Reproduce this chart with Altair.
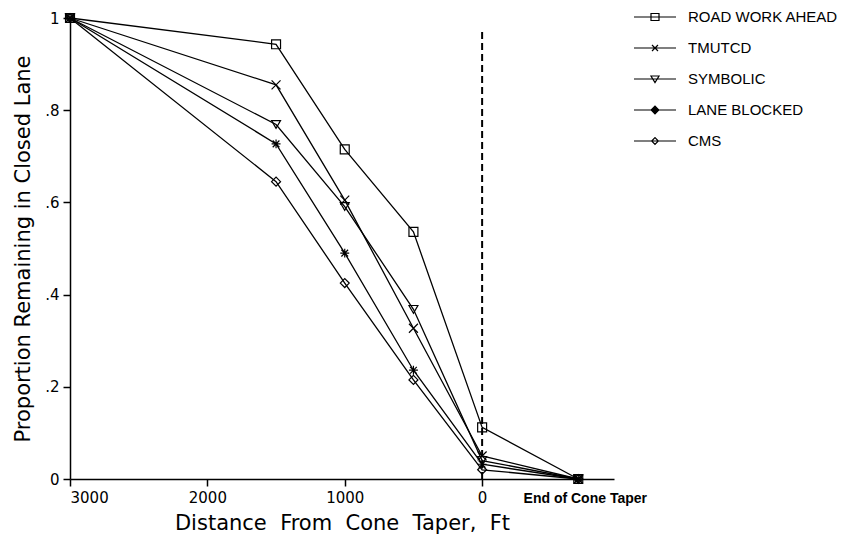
import altair as alt
import pandas as pd

distance = [3000, 1500, 1000, 500, 0, -700]
series_names = ["ROAD WORK AHEAD", "TMUTCD", "SYMBOLIC", "LANE BLOCKED", "CMS"]
road_work = [1.0, 0.943, 0.715, 0.536, 0.112, 0.0]
tmutcd = [1.0, 0.855, 0.605, 0.327, 0.050, 0.0]
symbolic = [1.0, 0.769, 0.591, 0.368, 0.040, 0.0]
lane_blocked = [1.0, 0.727, 0.490, 0.236, 0.032, 0.0]
cms = [1.0, 0.645, 0.425, 0.215, 0.020, 0.0]
x_ticks = [3000, 2000, 1000, 0]
y_ticks = [0, 0.2, 0.4, 0.6, 0.8, 1.0]
end_label = "End of Cone Taper"
end_x = -700
ref_x = 0
x_title = "Distance\u00a0 From\u00a0 Cone\u00a0 Taper,\u00a0 Ft"
y_title = "Proportion Remaining in Closed Lane"

values = [road_work, tmutcd, symbolic, lane_blocked, cms]
rows = []
for name, vals in zip(series_names, values):
    for d, v in zip(distance, vals):
        rows.append({"distance": d, "prop": v, "series": name})
df = pd.DataFrame(rows)

xscale = alt.Scale(domain=[3000, -960], nice=False, zero=False)
yscale = alt.Scale(domain=[0, 1], nice=False)

plot_shapes = [
    "square",
    "M-1,-1L1,1M-1,1L1,-1",
    "triangle-down",
    "M-1,0H1M0,-1V1M-0.75,-0.75L0.75,0.75M-0.75,0.75L0.75,-0.75",
    "diamond",
]
legend_shapes = [
    "M-2.1,0H2.1M-0.4,-0.35H0.4V0.35H-0.4Z",
    "M-2.1,0H2.1M-0.3,-0.3L0.3,0.3M-0.3,0.3L0.3,-0.3",
    "M-2.1,0H2.1M-0.4,-0.3H0.4L0,0.35Z",
    "M-2.1,0H2.1M-0.38,0L0,-0.38L0.38,0L0,0.38Z",
    "M-2.1,0H2.1M-0.33,0L0,-0.33L0.33,0L0,0.33Z",
]
legend_fill = ["white", "white", "white", "black", "white"]
legend_stroke = ["black"] * 5

x_enc = alt.X(
    "distance:Q",
    scale=xscale,
    axis=alt.Axis(
        values=x_ticks,
        title=x_title,
        format="d",
        grid=False,
        tickSize=7,
        labelPadding=4,
        titlePadding=7,
    ),
)
y_enc = alt.Y(
    "prop:Q",
    scale=yscale,
    axis=alt.Axis(
        values=y_ticks,
        title=y_title,
        grid=False,
        tickSize=7,
        labelPadding=4,
        titlePadding=11,
        labelExpr="datum.value == 0 ? '0' : datum.value == 1 ? '1' : replace(format(datum.value, '.1f'), '0.', '.')",
    ),
)

lines = alt.Chart(df).mark_line(color="black", strokeWidth=1.3).encode(
    x=x_enc, y=y_enc, detail="series:N"
)

points = alt.Chart(df).mark_point(
    filled=False, color="black", strokeWidth=1.2, size=80, opacity=1
).encode(
    x="distance:Q",
    y="prop:Q",
    shape=alt.Shape(
        "series:N",
        scale=alt.Scale(domain=series_names, range=plot_shapes),
        legend=None,
    ),
)

leg = dict(title=None, orient="none", legendX=563, legendY=-12)

legend_layer = alt.Chart(df).transform_filter("false").mark_point(
    strokeWidth=1.2, size=400, opacity=1
).encode(
    x="distance:Q",
    y="prop:Q",
    shape=alt.Shape(
        "series:N",
        scale=alt.Scale(domain=series_names, range=legend_shapes),
        legend=alt.Legend(
            symbolSize=400,
            symbolStrokeColor="black",
            symbolStrokeWidth=1.2,
            labelFont="Liberation Sans",
            labelFontSize=15,
            labelColor="black",
            labelOffset=22,
            labelLimit=0,
            rowPadding=12,
            symbolOffset=11,
            **leg,
        ),
    ),
    fill=alt.Fill(
        "series:N",
        scale=alt.Scale(domain=series_names, range=legend_fill),
        legend=alt.Legend(**leg),
    ),
    stroke=alt.Stroke(
        "series:N",
        scale=alt.Scale(domain=series_names, range=legend_stroke),
        legend=alt.Legend(**leg),
    ),
)

ref_df = pd.DataFrame({"x": [ref_x], "y": [0.0], "y2": [0.978]})
ref_rule = alt.Chart(ref_df).mark_rule(
    color="black", strokeWidth=2, strokeDash=[7, 4]
).encode(x="x:Q", y="y:Q", y2="y2:Q")

end_df = pd.DataFrame({"x": [end_x], "y": [0.0], "label": [end_label]})
end_text = alt.Chart(end_df).mark_text(
    font="Liberation Sans",
    fontWeight="bold",
    fontSize=14,
    dy=20,
    dx=7,
    color="black",
    baseline="middle",
).encode(x="x:Q", y="y:Q", text="label:N")

chart = (
    alt.layer(ref_rule, lines, points, legend_layer, end_text)
    .resolve_scale(shape="independent", fill="independent", stroke="independent")
    .properties(
        width=544,
        height=461,
        autosize=alt.AutoSizeParams(type="none"),
        padding={"left": 62, "top": 10, "right": 226, "bottom": 55},
    )
    .configure_view(stroke=None)
    .configure_axis(
        labelFont="DejaVu Sans",
        labelFontSize=15,
        labelColor="black",
        titleFont="DejaVu Sans",
        titleFontSize=21,
        titleFontWeight="normal",
        titleColor="black",
        domainColor="black",
        domainWidth=1.5,
        tickColor="black",
        tickWidth=1.5,
    )
)

chart.save("out.html", embed_options={"renderer": "svg", "actions": False})
